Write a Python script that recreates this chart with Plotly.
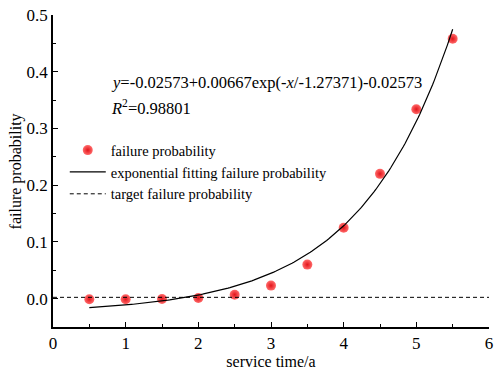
import numpy as np
import plotly.graph_objects as go

# Observed failure probability versus service time
service_time = [0.5, 1.0, 1.5, 2.0, 2.5, 3.0, 3.5, 4.0, 4.5, 5.0, 5.5]
failure_prob = [-0.001, -0.001, -0.0005, 0.001, 0.007, 0.023, 0.060, 0.125, 0.220, 0.334, 0.458]

# Exponential fit parameters: y = y0 + A*exp(-x/t)
fit_y0 = -0.02573
fit_A = 0.00667
fit_t = -1.27371

# Target failure probability (horizontal reference)
target_prob = 0.0023
target_x = [0, 6]

x_ticks = [0, 1, 2, 3, 4, 5, 6]
y_ticks = [0.0, 0.1, 0.2, 0.3, 0.4, 0.5]

fit_x = np.linspace(service_time[0], service_time[-1], 200)
fit_y = fit_y0 + fit_A * np.exp(-fit_x / fit_t)

FONT = "Liberation Serif"

fig = go.Figure()
fig.add_trace(go.Scatter(
    x=service_time, y=failure_prob, mode="markers",
    name="failure probability",
    marker=dict(size=10, color="#ff6a6a",
                gradient=dict(type="radial", color="#e3141a"),
                line=dict(width=0)),
))
fig.add_trace(go.Scatter(
    x=fit_x, y=fit_y, mode="lines",
    name="exponential fitting failure probability",
    line=dict(color="black", width=1.2),
))
fig.add_trace(go.Scatter(
    x=target_x, y=[target_prob, target_prob], mode="lines",
    name="target failure probability",
    line=dict(color="black", width=1, dash="4px,3px"),
))

fig.add_annotation(
    x=0.128, y=0.785, xref="paper", yref="paper", xanchor="left", yanchor="middle",
    text="<i>y</i>=-0.02573+0.00667exp(-<i>x</i>/-1.27371)-0.02573",
    showarrow=False, font=dict(family=FONT, size=16.5, color="black"),
)
fig.add_annotation(
    x=0.128, y=0.705, xref="paper", yref="paper", xanchor="left", yanchor="middle",
    text="<i>R</i><sup>2</sup>=0.98801",
    showarrow=False, font=dict(family=FONT, size=16.5, color="black"),
)
# y-axis title
fig.add_annotation(
    x=-0.084, y=0.5, xref="paper", yref="paper", xanchor="center", yanchor="middle",
    text="failure probability", textangle=-90,
    showarrow=False, font=dict(family=FONT, size=16, color="black"),
)

axis_common = dict(
    showline=True, linecolor="black", linewidth=1.5,
    ticks="inside", ticklen=5, tickwidth=1.2, tickcolor="black",
    showgrid=False, zeroline=False, mirror=False,
    tickfont=dict(family=FONT, size=17, color="black"),
    ticklabeloverflow="allow",
)

fig.update_layout(
    width=496, height=372,
    margin=dict(l=53, r=3, t=15, b=45),
    paper_bgcolor="white", plot_bgcolor="white",
    font=dict(family=FONT, color="black"),
    showlegend=True,
    legend=dict(
        x=0.027, y=0.618, xanchor="left", yanchor="top",
        bgcolor="rgba(0,0,0,0)", borderwidth=0,
        font=dict(family=FONT, size=14.5, color="black"),
        tracegroupgap=0, itemwidth=36,
    ),
    xaxis=dict(
        range=[0, 6], tickvals=x_ticks, ticktext=[str(v) for v in x_ticks],
        minor=dict(dtick=0.5, tick0=0, ticks="inside", ticklen=3, tickcolor="black", tickwidth=1),
        title=dict(text="service time/a", font=dict(family=FONT, size=16), standoff=4),
        **axis_common,
    ),
    yaxis=dict(
        range=[-0.05, 0.5], tickvals=y_ticks, ticktext=[f"{v:.1f}" for v in y_ticks],
        minor=dict(dtick=0.05, tick0=0, ticks="inside", ticklen=3, tickcolor="black", tickwidth=1),
        **axis_common,
    ),
)

fig.write_html("out.html")
